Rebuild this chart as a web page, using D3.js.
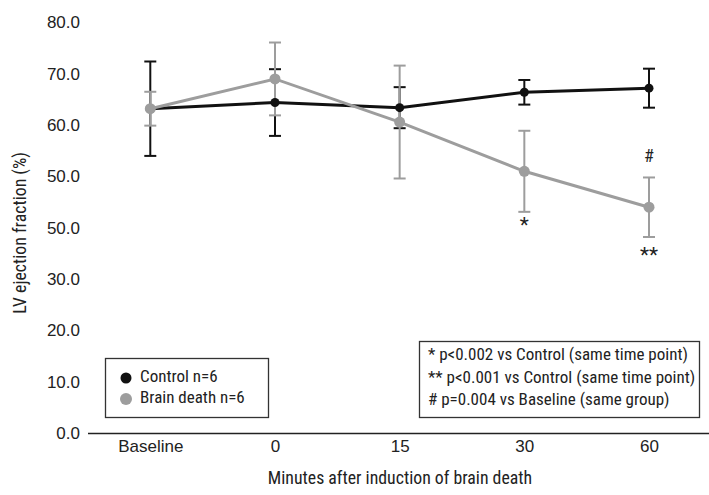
<!DOCTYPE html>
<html>
<head>
<meta charset="utf-8">
<script src="https://cdn.jsdelivr.net/npm/d3@7"></script>
<style>
  body { margin: 0; background: #fff; }
  svg { display: block; font-family: "Roboto Condensed", "DejaVu Sans Condensed", sans-serif; }
</style>
</head>
<body>
<div id="main"></div>
<script>
// data
const categories = ["Baseline", "0", "15", "30", "60"];
const controlMean = [63.2, 64.4, 63.4, 66.4, 67.2];
const controlErr  = [9.2, 6.5, 4.0, 2.4, 3.8];
const deathMean   = [63.2, 69.0, 60.6, 51.0, 44.0];
const deathErr    = [3.3, 7.1, 11.0, 7.9, 5.8];
const yTicks      = [0, 10, 20, 30, 40, 50, 60, 70, 80];
const yTickLabels = ["0.0", "10.0", "20.0", "30.0", "50.0", "50.0", "60.0", "70.0", "80.0"];
const legendItems = ["Control n=6", "Brain death n=6"];
const noteLines = [
  "* p<0.002 vs Control (same time point)",
  "** p<0.001 vs Control (same time point)",
  "# p=0.004 vs Baseline (same group)"
];
// significance marks: [category, symbol, baseline value]
const marks = [["30", "*", 39.2], ["60", "#", 52.8], ["60", "**", 33.4]];

const width = 709, height = 495;
const black = "#111", gray = "#9d9d9d";

const svg = d3.select("#main").append("svg")
    .attr("width", width)
    .attr("height", height);

const x = d3.scalePoint()
    .domain(categories)
    .range([150.3, 649])
    .padding(0);

const y = d3.scaleLinear()
    .domain([0, 80])
    .range([433, 22.5]);

// y tick labels (no axis line in the original)
const yAxis = svg.append("g")
    .attr("transform", "translate(88,0)")
    .call(d3.axisLeft(y).tickValues(yTicks).tickSize(0).tickPadding(8)
        .tickFormat((d, i) => yTickLabels[i]));
yAxis.select(".domain").remove();
yAxis.selectAll("text").attr("font-size", 17).attr("fill", "#222").attr("font-family", null);

// x axis
const xAxis = svg.append("g")
    .attr("transform", "translate(0,433)")
    .call(d3.axisBottom(x).tickSize(0).tickPadding(7));
xAxis.select(".domain").attr("d", "M88,0.5H709").attr("stroke", "#222").attr("stroke-width", 1.5);
xAxis.selectAll("text").attr("font-size", 17).attr("fill", "#222").attr("font-family", null);

// axis titles
svg.append("text")
    .attr("transform", "translate(26,233) rotate(-90)")
    .attr("text-anchor", "middle")
    .attr("font-size", 17.8)
    .attr("fill", "#222")
    .text("LV ejection fraction (%)");

svg.append("text")
    .attr("x", 400)
    .attr("y", 484)
    .attr("text-anchor", "middle")
    .attr("font-size", 17.8)
    .attr("fill", "#222")
    .text("Minutes after induction of brain death");

function errorBars(means, errs, color, width) {
    const g = svg.append("g").attr("stroke", color).attr("stroke-width", width);
    categories.forEach((c, i) => {
        const cx = x(c);
        const top = y(means[i] + errs[i]), bot = y(means[i] - errs[i]);
        g.append("line").attr("x1", cx).attr("x2", cx).attr("y1", top).attr("y2", bot);
        g.append("line").attr("x1", cx - 6).attr("x2", cx + 6).attr("y1", top).attr("y2", top);
        g.append("line").attr("x1", cx - 6).attr("x2", cx + 6).attr("y1", bot).attr("y2", bot);
    });
}

function series(means, color, r) {
    const pts = categories.map((c, i) => [x(c), y(means[i])]);
    svg.append("path")
        .attr("d", d3.line()(pts))
        .attr("fill", "none")
        .attr("stroke", color)
        .attr("stroke-width", 3);
    svg.append("g").selectAll("circle")
        .data(pts)
        .join("circle")
        .attr("cx", d => d[0])
        .attr("cy", d => d[1])
        .attr("r", r)
        .attr("fill", color);
}

errorBars(controlMean, controlErr, black, 2);
errorBars(deathMean, deathErr, gray, 2);
series(controlMean, black, 4.5);
series(deathMean, gray, 5.5);

// significance marks
svg.append("g").selectAll("text")
    .data(marks)
    .join("text")
    .attr("x", d => x(d[0]))
    .attr("y", d => y(d[2]))
    .attr("text-anchor", "middle")
    .attr("font-size", d => d[1] === "#" ? 18 : 21)
    .attr("fill", "#222")
    .text(d => d[1]);

// legend box
const leg = svg.append("g");
leg.append("rect")
    .attr("x", 105.5).attr("y", 358.5)
    .attr("width", 163).attr("height", 59)
    .attr("fill", "#fff").attr("stroke", "#333").attr("stroke-width", 1.3);
legendItems.forEach((t, i) => {
    const yy = 378 + i * 21;
    leg.append("circle")
        .attr("cx", 126).attr("cy", yy)
        .attr("r", i === 0 ? 5.5 : 6)
        .attr("fill", i === 0 ? black : gray);
    leg.append("text")
        .attr("x", 140).attr("y", yy)
        .attr("dominant-baseline", "middle")
        .attr("font-size", 17)
        .attr("fill", "#222")
        .text(t);
});

// note box
const note = svg.append("g");
note.append("rect")
    .attr("x", 419.5).attr("y", 341.5)
    .attr("width", 280).attr("height", 76)
    .attr("fill", "#fff").attr("stroke", "#333").attr("stroke-width", 1.3);
noteLines.forEach((t, i) => {
    note.append("text")
        .attr("x", 428).attr("y", 356 + i * 22.3)
        .attr("dominant-baseline", "middle")
        .attr("font-size", 17)
        .attr("fill", "#222")
        .text(t);
});
</script>
</body>
</html>
